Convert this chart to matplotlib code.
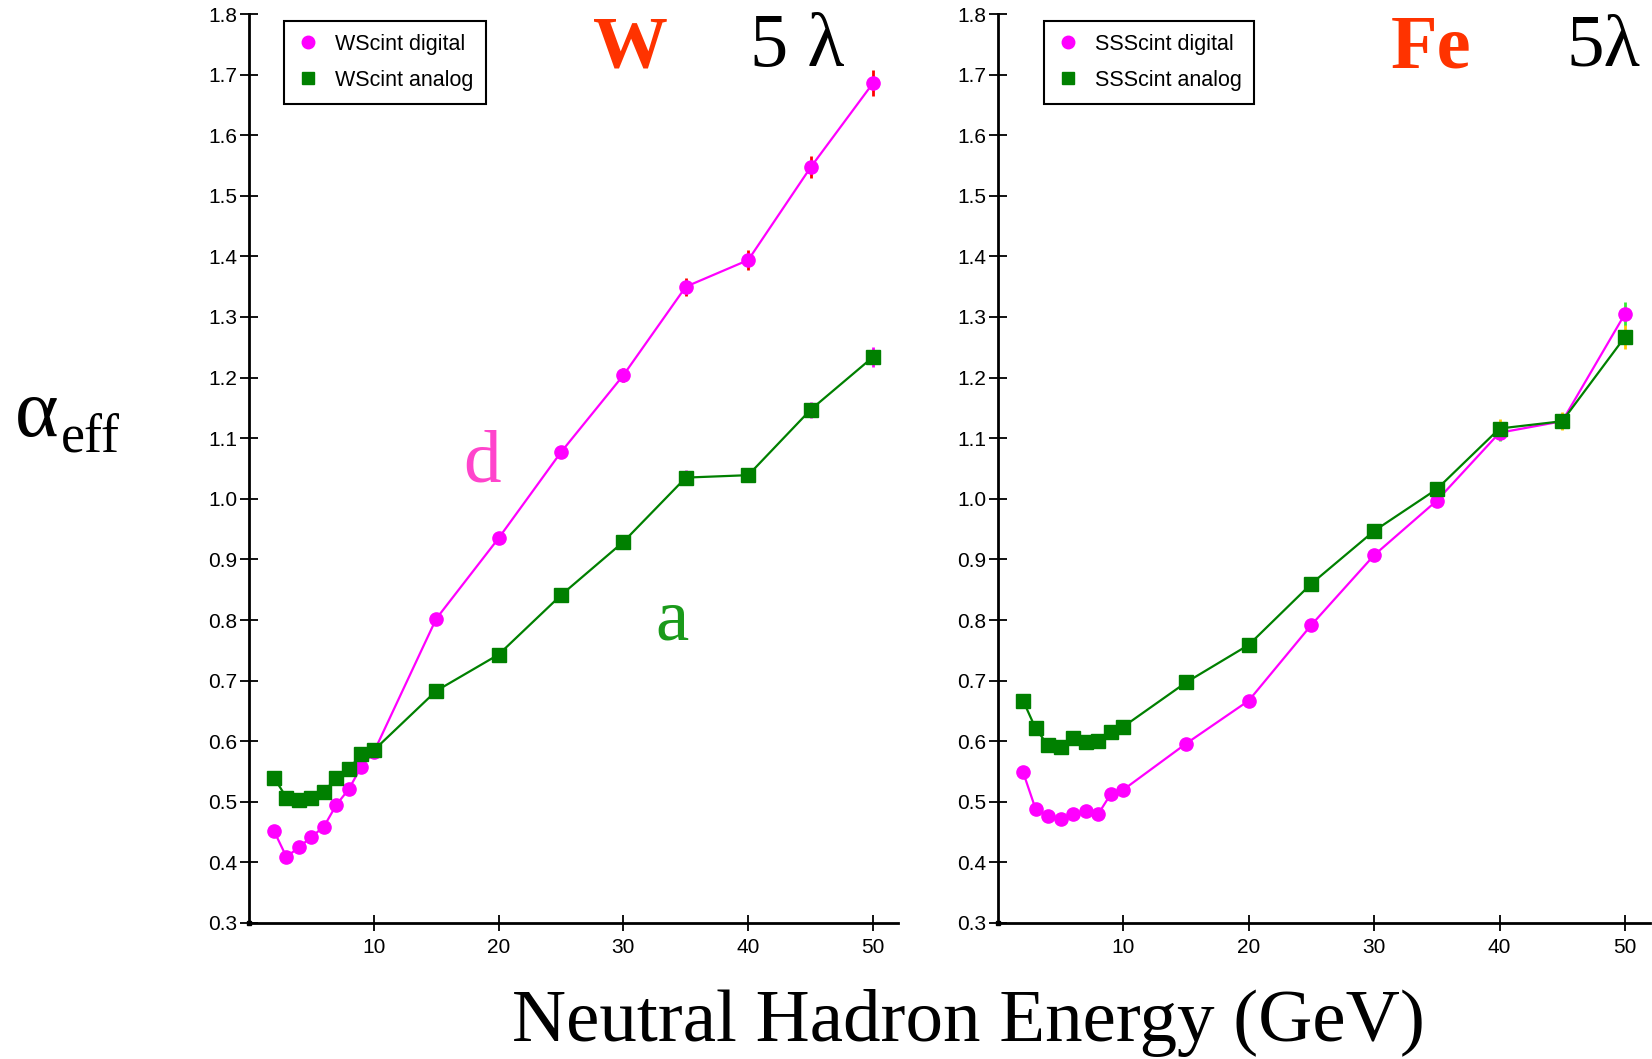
import matplotlib
matplotlib.use("Agg")
import matplotlib.pyplot as plt
from matplotlib.lines import Line2D

# ---------------- data ----------------
energy = [2, 3, 4, 5, 6, 7, 8, 9, 10, 15, 20, 25, 30, 35, 40, 45, 50]

w_digital = [0.452, 0.409, 0.425, 0.442, 0.459, 0.495, 0.521, 0.558, 0.582,
             0.802, 0.935, 1.077, 1.204, 1.350, 1.394, 1.547, 1.686]
w_digital_err = [0.004, 0.004, 0.004, 0.004, 0.004, 0.004, 0.004, 0.005, 0.005,
                 0.006, 0.008, 0.010, 0.012, 0.015, 0.016, 0.018, 0.021]
w_analog = [0.540, 0.507, 0.503, 0.506, 0.516, 0.540, 0.554, 0.579, 0.585,
            0.683, 0.743, 0.841, 0.929, 1.035, 1.039, 1.147, 1.234]
w_analog_err = [0.003, 0.003, 0.003, 0.003, 0.003, 0.003, 0.004, 0.004, 0.004,
                0.005, 0.006, 0.007, 0.009, 0.012, 0.012, 0.013, 0.016]

ss_digital = [0.549, 0.488, 0.477, 0.472, 0.480, 0.485, 0.480, 0.513, 0.520,
              0.596, 0.667, 0.792, 0.907, 0.997, 1.109, 1.128, 1.305]
ss_digital_err = [0.004, 0.004, 0.004, 0.004, 0.004, 0.004, 0.004, 0.004, 0.004,
                  0.005, 0.006, 0.008, 0.009, 0.010, 0.013, 0.012, 0.020]
ss_analog = [0.667, 0.621, 0.593, 0.591, 0.605, 0.599, 0.600, 0.615, 0.624,
             0.697, 0.759, 0.860, 0.947, 1.016, 1.116, 1.128, 1.267]
ss_analog_err = [0.004, 0.004, 0.004, 0.004, 0.004, 0.004, 0.004, 0.004, 0.004,
                 0.005, 0.006, 0.008, 0.009, 0.010, 0.015, 0.015, 0.020]

x_ticks = [10, 20, 30, 40, 50]
y_ticks = [0.3, 0.4, 0.5, 0.6, 0.7, 0.8, 0.9, 1.0, 1.1, 1.2, 1.3, 1.4, 1.5, 1.6, 1.7, 1.8]

# ---------------- figure ----------------
W, H = 1652, 1059
fig = plt.figure(figsize=(W / 100, H / 100), dpi=100)
fig.patch.set_facecolor("white")

SANS = ["Liberation Sans", "DejaVu Sans"]
SERIF = ["Liberation Serif", "DejaVu Serif"]

MAG = "#FF00FF"
GRN = "#008000"


def fx(px):
    return px / W


def fy(py):
    return 1 - py / H


def make_axes(x0, x1):
    ax = fig.add_axes([fx(x0), fy(923), fx(x1 - x0), (923 - 14) / H])
    ax.set_xlim(0, 52)
    ax.set_ylim(0.3, 1.8)
    for s in ("top", "right"):
        ax.spines[s].set_visible(False)
    for s in ("left", "bottom"):
        ax.spines[s].set_linewidth(2)
    ax.set_xticks(x_ticks)
    ax.set_xticklabels([str(t) for t in x_ticks])
    ax.set_yticks(y_ticks)
    ax.set_yticklabels([f"{t:.1f}" for t in y_ticks])
    ax.tick_params(axis="x", direction="inout", length=12, width=1.3, pad=5,
                   labelsize=15)
    ax.tick_params(axis="y", direction="inout", length=13, width=1.3, pad=2,
                   labelsize=15)
    for lab in ax.get_xticklabels() + ax.get_yticklabels():
        lab.set_family(SANS)
    ax.plot([0], [0.3], marker="s", ms=3, color="black", clip_on=False, zorder=6)
    return ax


def draw(ax, y1, e1, c_err1, y2, e2, c_err2, lab1, lab2, leg_x0):
    ax.errorbar(energy, y1, yerr=e1, fmt="none", ecolor=c_err1, elinewidth=2,
                capsize=0, zorder=2)
    ax.errorbar(energy, y2, yerr=e2, fmt="none", ecolor=c_err2, elinewidth=2,
                capsize=0, zorder=2)
    ax.plot(energy, y1, color=MAG, lw=1.6, marker="o", ms=9.5, mec=MAG,
            mfc=MAG, zorder=3, clip_on=False)
    ax.plot(energy, y2, color=GRN, lw=1.6, marker="s", ms=9.5, mec=GRN,
            mfc=GRN, zorder=3, clip_on=False)
    handles = [
        Line2D([], [], ls="none", marker="o", ms=9, color=MAG),
        Line2D([], [], ls="none", marker="s", ms=9, color=GRN),
    ]
    leg = ax.legend(handles, [lab1, lab2], loc="upper left",
                    bbox_to_anchor=(fx(leg_x0), fy(21)),
                    bbox_transform=fig.transFigure, borderaxespad=0,
                    fancybox=False, framealpha=1, edgecolor="black",
                    prop={"family": SANS, "size": 15.5},
                    handlelength=1.0, handletextpad=0.75, labelspacing=0.7,
                    borderpad=0.6)
    leg.get_frame().set_linewidth(1.5)


axL = make_axes(249, 898)
draw(axL, w_digital, w_digital_err, "#FF0000", w_analog, w_analog_err, MAG,
     "WScint digital", "WScint analog", 284)

axR = make_axes(998, 1650)
draw(axR, ss_digital, ss_digital_err, "#33EE33", ss_analog, ss_analog_err,
     "#FFCC00", "SSScint digital", "SSScint analog", 1044)

# ---------------- annotations ----------------
ORANGE = "#FF3300"
fig.text(fx(593), fy(68), "W", color=ORANGE, fontsize=54, fontweight="bold",
         family=SERIF, va="baseline", ha="left")
fig.text(fx(750), fy(66), "5 λ", color="black", fontsize=55,
         family=SERIF, va="baseline", ha="left")
fig.text(fx(1391), fy(68), "Fe", color=ORANGE, fontsize=55, fontweight="bold",
         family=SERIF, va="baseline", ha="left")
fig.text(fx(1566), fy(66), "5λ", color="black", fontsize=54,
         family=SERIF, va="baseline", ha="left")

fig.text(fx(463), fy(482), "d", color="#FF44CC", fontsize=54, family=SERIF,
         va="baseline", ha="left")
fig.text(fx(655), fy(640), "a", color="#1A9A1A", fontsize=54, family=SERIF,
         va="baseline", ha="left")

fig.text(fx(15), fy(436), "α", color="black", fontsize=60, family=SERIF,
         va="baseline", ha="left")
fig.text(fx(61), fy(452), "eff", color="black", fontsize=39, family=SERIF,
         va="baseline", ha="left")

fig.text(fx(968), fy(1041), "Neutral Hadron Energy (GeV)", color="black",
         fontsize=54, family=SERIF, va="baseline", ha="center")

fig.savefig("out.png", dpi=100, facecolor="white")
